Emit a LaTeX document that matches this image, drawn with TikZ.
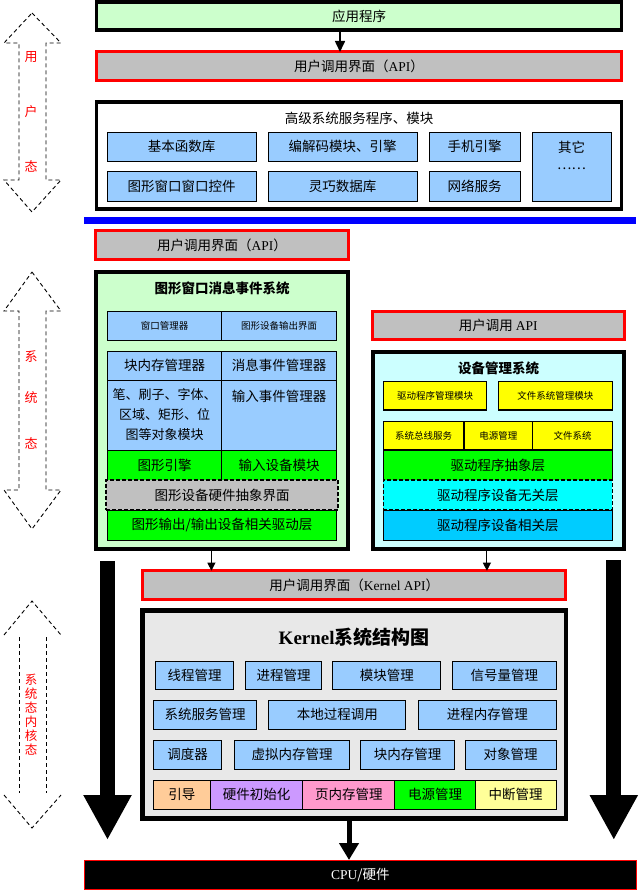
\documentclass[tikz,border=0pt]{standalone}
\usepackage{fontspec}
\setmainfont{Noto Sans CJK SC}
\newfontfamily\lat{Liberation Serif}
\usetikzlibrary{arrows.meta}
\definecolor{lgreen}{HTML}{CCFFCC}
\definecolor{lcyan}{HTML}{CCFFFF}
\definecolor{bluec}{HTML}{99CCFF}
\definecolor{grayc}{HTML}{C0C0C0}
\definecolor{fgreen}{HTML}{00FF00}
\definecolor{fcyan}{HTML}{00FFFF}
\definecolor{skyc}{HTML}{00CCFF}
\definecolor{yelc}{HTML}{FFFF00}
\definecolor{kgray}{HTML}{E8E8E8}
\definecolor{peach}{HTML}{FFCC99}
\definecolor{lav}{HTML}{CC99FF}
\definecolor{pinkc}{HTML}{FF99CC}
\definecolor{lyel}{HTML}{FFFF99}
\definecolor{sepblue}{HTML}{0000FF}
\newcommand\myfs[1]{\fontsize{#1}{#1}\selectfont}
\newcommand\bx[7]{\node[#6,minimum width={#4-#2},minimum height={#5-#3}] (#1) at ({(#2+#4)/2},{(#3+#5)/2}) {#7};}
\tikzset{
  every node/.style={inner sep=0pt,outer sep=0pt,font=\myfs{13.5}},
  obox/.style={draw,line width=3.5pt},
  redbox/.style={draw=red,line width=3pt,fill=grayc},
  bcell/.style={draw,line width=0.9pt,fill=bluec},
  ycell/.style={draw,line width=1.4pt,fill=yelc,font=\myfs{9.5}},
  dcell/.style={draw,line width=1.5pt,dash pattern=on 4pt off 2pt},
  darr/.style={draw,line width=0.9pt,dash pattern=on 4pt off 3pt},
  redtxt/.style={text=red,font=\myfs{13}},
  ttl/.style={font=\bfseries\myfs{13.5}},
  thinarrow/.style={draw,line width=0.9pt,-{Triangle[length=8pt,width=8pt]}},
  midarrow/.style={draw,line width=1.6pt,-{Triangle[length=11pt,width=10pt]}},
  kerarrow/.style={draw,line width=5pt,-{Triangle[length=17pt,width=19pt]}},
  fatarrow/.style={draw,line width=15pt,-{Triangle[length=45pt,width=45pt]}}
}
\begin{document}
\begin{tikzpicture}[x=1pt,y=-1pt]
\useasboundingbox[fill=white] (0,0) rectangle (644,890);

% left dashed double arrows
\draw[darr] (32,13) -- (61,43) -- (46,43) -- (46,180) -- (61,180) -- (32,212) -- (4,180) -- (19,180) -- (19,43) -- (4,43) -- cycle;
\node[redtxt] (u1) at (31,57) {用};
\node[redtxt] (u2) at (31,112) {户};
\node[redtxt] (u3) at (31,166) {态};
\draw[darr] (32,272) -- (61,311) -- (46,311) -- (46,490) -- (61,490) -- (32,529) -- (4,490) -- (19,490) -- (19,311) -- (4,311) -- cycle;
\node[redtxt] (s1) at (31,357) {系};
\node[redtxt] (s2) at (31,398) {统};
\node[redtxt] (s3) at (31,443) {态};
\draw[darr] (4,635) -- (32,601) -- (61,635);
\draw[darr] (19,637) -- (19,793);
\draw[darr] (46,637) -- (46,793);
\draw[darr] (4,795) -- (32,828) -- (61,795);
\node[redtxt,align=center,font={\fontsize{12.5}{14}\selectfont}] (sk) at (31,715) {系\\统\\态\\内\\核\\态};

% top part
\bx{app}{96.5}{2}{621.5}{30}{obox,fill=lgreen}{应用程序}
\bx{api}{96.5}{52}{621.5}{81}{redbox}{用户调用界面（{\lat API}）}
\bx{adv}{96.5}{102}{621.5}{209}{obox,fill=white}{}
\node (advt) at ([yshift=-16pt]adv.north) {高级系统服务程序、模块};
\bx{c1}{107}{132}{256}{161}{bcell}{基本函数库}
\bx{c2}{268}{132}{417}{161}{bcell}{编解码模块、引擎}
\bx{c3}{429}{132}{520}{161}{bcell}{手机引擎}
\bx{c4}{532}{132}{611}{201}{bcell}{}
\node (c4a) at ([yshift=-15pt]c4.north) {其它};
\node (c4b) at ([yshift=-37pt]c4.north) {……};
\bx{c5}{107}{171}{256}{201}{bcell}{图形窗口窗口控件}
\bx{c6}{268}{171}{417}{201}{bcell}{灵巧数据库}
\bx{c7}{429}{171}{520}{201}{bcell}{网络服务}
\coordinate (xa) at (340,0);
\draw[midarrow] (app.south -| xa) -- (api.north -| xa);

% separator
\fill[sepblue] (84,217) rectangle (636,224);

% middle left
\bx{apil}{95.5}{230.5}{348.5}{259.5}{redbox}{用户调用界面（{\lat API}）}
\bx{gw}{96}{272}{348}{549}{obox,fill=lgreen}{}
\node[ttl] (gwt) at ([yshift=-16pt]gw.north) {图形窗口消息事件系统};
\bx{g11}{107.3}{311}{221.7}{340.3}{bcell,font=\myfs{9.5}}{窗口管理器}
\bx{g12}{221.7}{311}{336.7}{340.3}{bcell,font=\myfs{9.5}}{图形设备输出界面}
\bx{g21}{107.3}{351}{221.7}{380}{bcell}{块内存管理器}
\bx{g22}{221.7}{351}{336.7}{380}{bcell}{消息事件管理器}
\bx{g31}{107.3}{380}{221.7}{450}{bcell,align=center,font={\fontsize{13}{20}\selectfont}}{笔、刷子、字体、\\区域、矩形、位\\图等对象模块}
\bx{g32}{221.7}{380}{336.7}{450}{bcell}{}
\node (g32t) at ([yshift=-16pt]g32.north) {输入事件管理器};
\bx{g41}{107.3}{450}{221.7}{480}{bcell,fill=fgreen}{图形引擎}
\bx{g42}{221.7}{450}{336.7}{480}{bcell,fill=fgreen}{输入设备模块}
\bx{g5}{106}{480}{338}{510}{dcell,fill=grayc}{图形设备硬件抽象界面}
\bx{g6}{107.3}{510}{336.7}{540}{bcell,fill=fgreen}{图形输出/输出设备相关驱动层}

% middle right
\bx{apir}{372.5}{311.5}{624}{339}{redbox}{用户调用 {\lat API}}
\bx{dev}{373}{352}{624}{549}{obox,fill=lcyan}{}
\node[ttl] (devt) at ([yshift=-16pt]dev.north) {设备管理系统};
\bx{d11}{383.3}{381.7}{486.7}{410}{ycell}{驱动程序管理模块}
\bx{d12}{498.3}{381.7}{612.3}{410}{ycell}{文件系统管理模块}
\bx{d21}{383.3}{421.7}{464}{450}{ycell}{系统总线服务}
\bx{d22}{464}{421.7}{532.7}{450}{ycell}{电源管理}
\bx{d23}{532.7}{421.7}{612.3}{450}{ycell}{文件系统}
\bx{d3}{383.3}{450}{612.3}{480}{bcell,fill=fgreen}{驱动程序抽象层}
\bx{d4}{383.3}{480}{612.3}{510}{dcell,fill=fcyan}{驱动程序设备无关层}
\bx{d5}{383.3}{510}{612.3}{540}{bcell,fill=skyc}{驱动程序设备相关层}

% kernel
\bx{kapi}{142.6}{570.7}{565.8}{599.3}{redbox}{用户调用界面（{\lat Kernel API}）}
\bx{kern}{142.6}{610.5}{565.8}{818.7}{obox,line width=4.5pt,fill=kgray}{}
\node[font=\bfseries\myfs{19}] (kernt) at ([yshift=-26.5pt]kern.north) {{\lat Kernel}系统结构图};
\bx{k11}{155.6}{661}{233.8}{689}{bcell}{线程管理}
\bx{k12}{245.6}{661}{321.6}{689}{bcell}{进程管理}
\bx{k13}{332.8}{661}{440.8}{689}{bcell}{模块管理}
\bx{k14}{452.7}{661}{556}{689}{bcell}{信号量管理}
\bx{k21}{153.5}{700}{256.5}{729}{bcell}{系统服务管理}
\bx{k22}{268.7}{700}{405.9}{729}{bcell}{本地过程调用}
\bx{k23}{418.5}{700}{556}{729}{bcell}{进程内存管理}
\bx{k31}{153.5}{740}{221.5}{769}{bcell}{调度器}
\bx{k32}{234.5}{740}{349.7}{769}{bcell}{虚拟内存管理}
\bx{k33}{360.5}{740}{454.9}{769}{bcell}{块内存管理}
\bx{k34}{465}{740}{556}{769}{bcell}{对象管理}
\bx{k41}{153.5}{780}{210.4}{809}{bcell,fill=peach}{引导}
\bx{k42}{210.4}{780}{302.9}{809}{bcell,fill=lav}{硬件初始化}
\bx{k43}{302.9}{780}{394.7}{809}{bcell,fill=pinkc}{页内存管理}
\bx{k44}{394.7}{780}{475.4}{809}{bcell,fill=fgreen}{电源管理}
\bx{k45}{475.4}{780}{556}{809}{bcell,fill=lyel}{中断管理}

\bx{cpu}{84.3}{860}{636.4}{889.3}{draw=red,line width=0.8pt,fill=black,text=white}{{\lat CPU}/硬件}

% connectors
\coordinate (xl) at (211.4,0);
\coordinate (xr) at (486.9,0);
\coordinate (xk) at (349,0);
\draw[thinarrow] (gw.south -| xl) -- (kapi.north -| xl);
\draw[thinarrow] (dev.south -| xr) -- (kapi.north -| xr);
\draw[kerarrow] (kern.south -| xk) -- (cpu.north -| xk);

% big side arrows
\coordinate (la) at (107.5,561);
\coordinate (lb) at (107.5,840);
\coordinate (ra) at (613.8,560);
\coordinate (rb) at (613.8,840);
\draw[fatarrow] (la) -- (lb);
\draw[fatarrow] (ra) -- (rb);
\end{tikzpicture}
\end{document}
